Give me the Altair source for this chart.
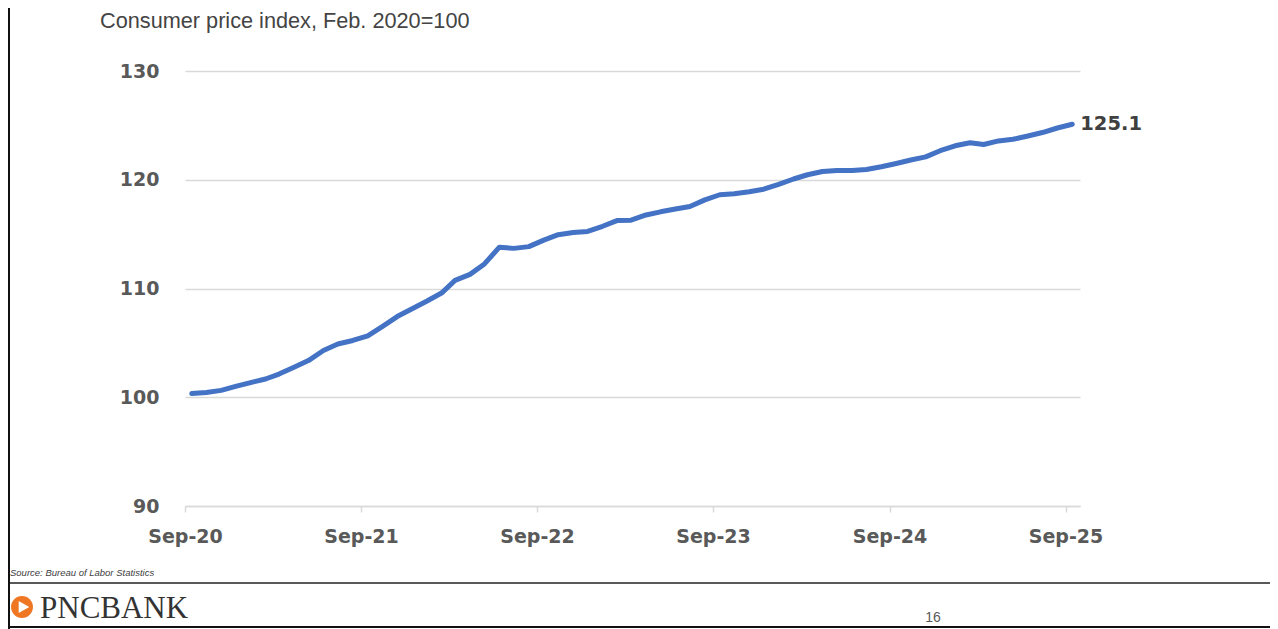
import altair as alt
import pandas as pd

# ---- data ----
months = [f"{2020 + (8 + i) // 12}-{(8 + i) % 12 + 1:02d}-15" for i in range(61)]  # Sep-2020 .. Sep-2025
cpi = [
    100.34, 100.43, 100.63, 101.00, 101.35, 101.68, 102.13, 102.76, 103.37, 104.30,
    104.90, 105.22, 105.65, 106.50, 107.42, 108.12, 108.83, 109.58, 110.75, 111.30,
    112.26, 113.80, 113.69, 113.85, 114.45, 114.95, 115.15, 115.25, 115.72, 116.26,
    116.28, 116.76, 117.05, 117.31, 117.54, 118.15, 118.62, 118.72, 118.89, 119.13,
    119.58, 120.07, 120.46, 120.76, 120.86, 120.85, 120.94, 121.20, 121.50, 121.82,
    122.10, 122.67, 123.12, 123.40, 123.24, 123.57, 123.72, 124.02, 124.34, 124.76,
    125.10,
]
y_ticks = [90, 100, 110, 120, 130]
x_tick_years = [2020, 2021, 2022, 2023, 2024, 2025]

title_text = "Consumer price index, Feb. 2020=100"
source_text = "Source: Bureau of Labor Statistics"
brand_text = "PNCBANK"
page_text = "16"

df = pd.DataFrame({"date": months, "cpi": cpi})
last = df.tail(1)

x_scale = alt.Scale(
    type="utc",
    domain=[alt.DateTime(year=2020, month=9, date=1, utc=True),
            alt.DateTime(year=2025, month=10, date=1, utc=True)],
)
x_axis = alt.Axis(
    values=[alt.DateTime(year=y, month=9, date=1, utc=True) for y in x_tick_years],
    labelExpr="utcFormat(datum.value, '%b-%y')",
    title=None, grid=False, domainColor="#d9d9d9", domainWidth=1.5,
    tickColor="#d9d9d9", tickWidth=1.5, tickSize=6, labelFlush=False,
    labelFont="DejaVu Sans", labelFontWeight="bold", labelFontSize=19,
    labelColor="#595959", labelPadding=15,
)
y_scale = alt.Scale(domain=[90, 130], nice=False, zero=False)
y_axis = alt.Axis(
    values=y_ticks, title=None, domain=False, ticks=False, tickSize=0,
    gridColor="#d9d9d9", gridWidth=1.5,
    labelFont="DejaVu Sans", labelFontWeight="bold", labelFontSize=19,
    labelColor="#595959", labelPadding=26,
)

line = alt.Chart(df).mark_line(
    color="#4472C4", strokeWidth=5, strokeCap="round", strokeJoin="round"
).encode(
    x=alt.X("date:T", scale=x_scale, axis=x_axis),
    y=alt.Y("cpi:Q", scale=y_scale, axis=y_axis),
)

end_label = alt.Chart(last).mark_text(
    align="left", baseline="middle", dx=8, font="DejaVu Sans",
    fontWeight="bold", fontSize=19.5, color="#404040",
).encode(
    x=alt.X("date:T", scale=x_scale),
    y=alt.Y("cpi:Q", scale=y_scale),
    text=alt.Text("cpi:Q", format=".1f"),
)


def txt(s, x, y, **kw):
    return alt.Chart(pd.DataFrame({"t": [s]})).mark_text(**kw).encode(
        x=alt.value(x), y=alt.value(y), text="t:N"
    )


title = txt(title_text, -85, -43, align="left", baseline="alphabetic",
            font="Liberation Sans", fontSize=21.7, color="#444444")
source = txt(source_text, -175, 502, align="left", baseline="middle",
             font="Liberation Sans", fontSize=9.5, fontStyle="italic", color="#404040")
brand = txt(brand_text, -145, 547, align="left", baseline="alphabetic",
            font="Liberation Serif", fontSize=31, color="#333333")
page = txt(page_text, 748, 547, align="center", baseline="middle",
           font="Liberation Sans", fontSize=14, color="#595959")

one = pd.DataFrame({"k": [0]})
separator = alt.Chart(one).mark_rule(color="#595959", strokeWidth=2).encode(
    x=alt.value(-177), x2=alt.value(1085), y=alt.value(512)
)
left_border = alt.Chart(one).mark_rule(color="#111111", strokeWidth=2).encode(
    x=alt.value(-176), y=alt.value(-63), y2=alt.value(558)
)
bottom_border = alt.Chart(one).mark_rule(color="#111111", strokeWidth=2).encode(
    x=alt.value(-177), x2=alt.value(1085), y=alt.value(556)
)
logo_circle = alt.Chart(one).mark_point(
    shape="circle", filled=True, opacity=1, color="#EF7622", size=480
).encode(x=alt.value(-163), y=alt.value(536))
logo_arrow = alt.Chart(one).mark_point(
    shape="triangle-right", filled=True, opacity=1, color="#ffffff", size=150
).encode(x=alt.value(-161), y=alt.value(536))

chart = alt.layer(
    line, end_label, title, source, separator, left_border, bottom_border,
    logo_circle, logo_arrow, brand, page,
).properties(
    width=895, height=435,
    autosize=alt.AutoSizeParams(type="none"),
    padding={"left": 177, "top": 63, "right": 190, "bottom": 123},
).configure_view(stroke=None)

chart.save("out.html", embed_options={"renderer": "svg", "actions": False})
